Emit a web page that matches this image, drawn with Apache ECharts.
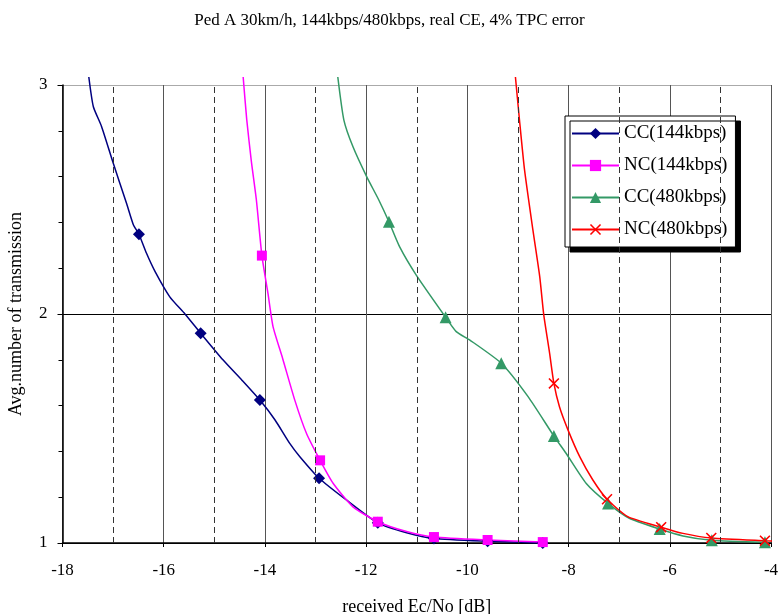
<!DOCTYPE html>
<html>
<head>
<meta charset="utf-8">
<script src="https://cdn.jsdelivr.net/npm/echarts@6/dist/echarts.min.js"></script>
<style>html,body{margin:0;padding:0;background:#fff}#c{width:779px;height:614px}</style>
</head>
<body>
<div id="c"></div>
<script>
// ---- data ----
const xTicks = [-18, -16, -14, -12, -10, -8, -6, -4];
const oddGrid = [-17, -15, -13, -11, -9, -7, -5];
const yTicks = [1, 2, 3];

// curve points (no marker)
const cc144Curve = [[-17.48,3.035],[-17.39,2.905],[-17.23,2.82],[-17.0,2.66],[-16.73,2.48],[-16.6,2.39],
  [-16.34,2.265],[-16.17,2.185],[-15.88,2.075],[-15.58,2.0],[-14.83,1.80],[-14.45,1.71],
  [-13.80,1.537],[-13.51,1.435],[-13.31,1.377],[-12.39,1.188],[-11.2,1.045]];
const cc144Marks = [[-16.49,2.348],[-15.27,1.916],[-14.1,1.624],[-12.93,1.283],[-11.77,1.088],[-10.66,1.02],[-9.6,1.008],[-8.51,1.0]];

const nc144Curve = [[-14.43,3.035],[-14.36,2.85],[-14.27,2.67],[-14.17,2.50],[-13.94,2.09],[-13.84,1.945],
  [-13.65,1.806],[-13.41,1.624],[-13.18,1.479],[-12.65,1.26],[-12.26,1.158],[-11.2,1.05]];
const nc144Marks = [[-14.06,2.255],[-12.91,1.361],[-11.77,1.093],[-10.66,1.026],[-9.6,1.013],[-8.51,1.004]];

const cc480Curve = [[-12.56,3.035],[-12.44,2.847],[-12.26,2.73],[-11.99,2.60],[-11.75,2.498],[-11.34,2.294],
  [-11.01,2.17],[-10.22,1.923],[-9.95,1.886],[-8.80,1.639],[-8.05,1.392],[-7.65,1.26],[-6.80,1.108],[-5.74,1.031]];
const cc480Marks = [[-11.55,2.403],[-10.43,1.986],[-9.33,1.785],[-8.29,1.467],[-7.22,1.173],[-6.20,1.061],[-5.17,1.012],[-4.12,1.003]];

const nc480Curve = [[-9.05,3.035],[-8.97,2.847],[-8.87,2.629],[-8.705,2.367],[-8.57,2.163],[-8.49,1.996],[-8.375,1.829],
  [-8.18,1.595],[-8.01,1.493],[-7.78,1.377],[-7.52,1.275],[-6.83,1.115],[-5.74,1.042],[-3.85,1.008]];
const nc480Marks = [[-8.29,1.697],[-7.24,1.191],[-6.17,1.069],[-5.18,1.022],[-4.12,1.01]];

const names = ['CC(144kbps)', 'NC(144kbps)', 'CC(480kbps)', 'NC(480kbps)'];
// ----------------------------------------

function merge(curve, marks) {
  const all = curve.map(p => ({value: p, symbol: 'none'}))
    .concat(marks.map(p => ({value: p})));
  all.sort((a, b) => a.value[0] - b.value[0]);
  return all;
}

const FONT = '"Liberation Serif", "Times New Roman", serif';
const crossPath = 'path://M0,1 L1,0 L5,4 L9,0 L10,1 L6,5 L10,9 L9,10 L5,6 L1,10 L0,9 L4,5 Z';

function lineSeries(name, data, color, symbol, size) {
  return {
    name: name, type: 'line', data: data, smooth: 0.2,
    clip: false, showSymbol: true, symbol: symbol, symbolSize: size,
    lineStyle: {color: color, width: 1.5}, itemStyle: {color: color},
    emphasis: {disabled: true}, animation: false
  };
}

const chart = echarts.init(document.getElementById('c'), null, {renderer: 'canvas'});
chart.setOption({
  backgroundColor: '#fff',
  animation: false,
  title: {
    text: 'Ped A 30km/h, 144kbps/480kbps, real CE, 4% TPC error',
    left: 'center', top: 7,
    textStyle: {fontFamily: FONT, fontSize: 17, fontWeight: 'normal', color: '#000'}
  },
  legend: {
    data: names, orient: 'vertical', left: 565, top: 116, width: 169,
    padding: [8, 8, 8, 6], itemGap: 13, itemWidth: 47, itemHeight: 14,
    backgroundColor: '#fff', borderColor: '#000', borderWidth: 1,
    shadowColor: '#000', shadowBlur: 0, shadowOffsetX: 5, shadowOffsetY: 5,
    textStyle: {fontFamily: FONT, fontSize: 19, color: '#000'},
    selectedMode: false
  },
  grid: {left: 62.5, right: 8, top: 85, bottom: 71, containLabel: false, outerBoundsMode: 'none'},
  xAxis: {
    type: 'value', min: xTicks[0], max: xTicks[xTicks.length - 1], interval: 2,
    name: 'received Ec/No [dB]', nameLocation: 'middle', nameGap: 55,
    nameTextStyle: {fontFamily: FONT, fontSize: 18, color: '#000'},
    axisLine: {show: true, lineStyle: {color: '#000', width: 1.5}},
    axisTick: {show: true, length: 4, lineStyle: {color: '#000'}},
    axisLabel: {fontFamily: FONT, fontSize: 17, color: '#000', margin: 19},
    splitLine: {show: true, lineStyle: {color: '#555', width: 1, type: 'solid'}}
  },
  yAxis: {
    type: 'value', min: yTicks[0], max: yTicks[yTicks.length - 1], interval: 1,
    name: 'Avg.number of transmission', nameLocation: 'middle', nameGap: 37,
    nameTextStyle: {fontFamily: FONT, fontSize: 18, color: '#000'},
    axisLine: {show: true, lineStyle: {color: '#000', width: 1.5}},
    axisTick: {show: true, length: 5, lineStyle: {color: '#000'}},
    minorTick: {show: true, splitNumber: 5, length: 4, lineStyle: {color: '#000'}},
    axisLabel: {fontFamily: FONT, fontSize: 17, color: '#000', margin: 15},
    splitLine: {show: true, lineStyle: {color: ['#000', '#000', '#aaa'], width: 1}}
  },
  series: [
    {
      name: 'grid-odd', type: 'line', data: [], silent: true, animation: false,
      markLine: {
        silent: true, symbol: 'none', label: {show: false}, animation: false,
        lineStyle: {color: '#333', width: 1, type: [6, 4]},
        data: oddGrid.map(v => ({xAxis: v}))
      }
    },
    lineSeries(names[0], merge(cc144Curve, cc144Marks), '#000080', 'diamond', 12),
    lineSeries(names[1], merge(nc144Curve, nc144Marks), '#ff00ff', 'rect', 10),
    lineSeries(names[2], merge(cc480Curve, cc480Marks), '#339966', 'triangle', 12),
    lineSeries(names[3], merge(nc480Curve, nc480Marks), '#ff0000', crossPath, 11)
  ]
});
</script>
</body>
</html>
